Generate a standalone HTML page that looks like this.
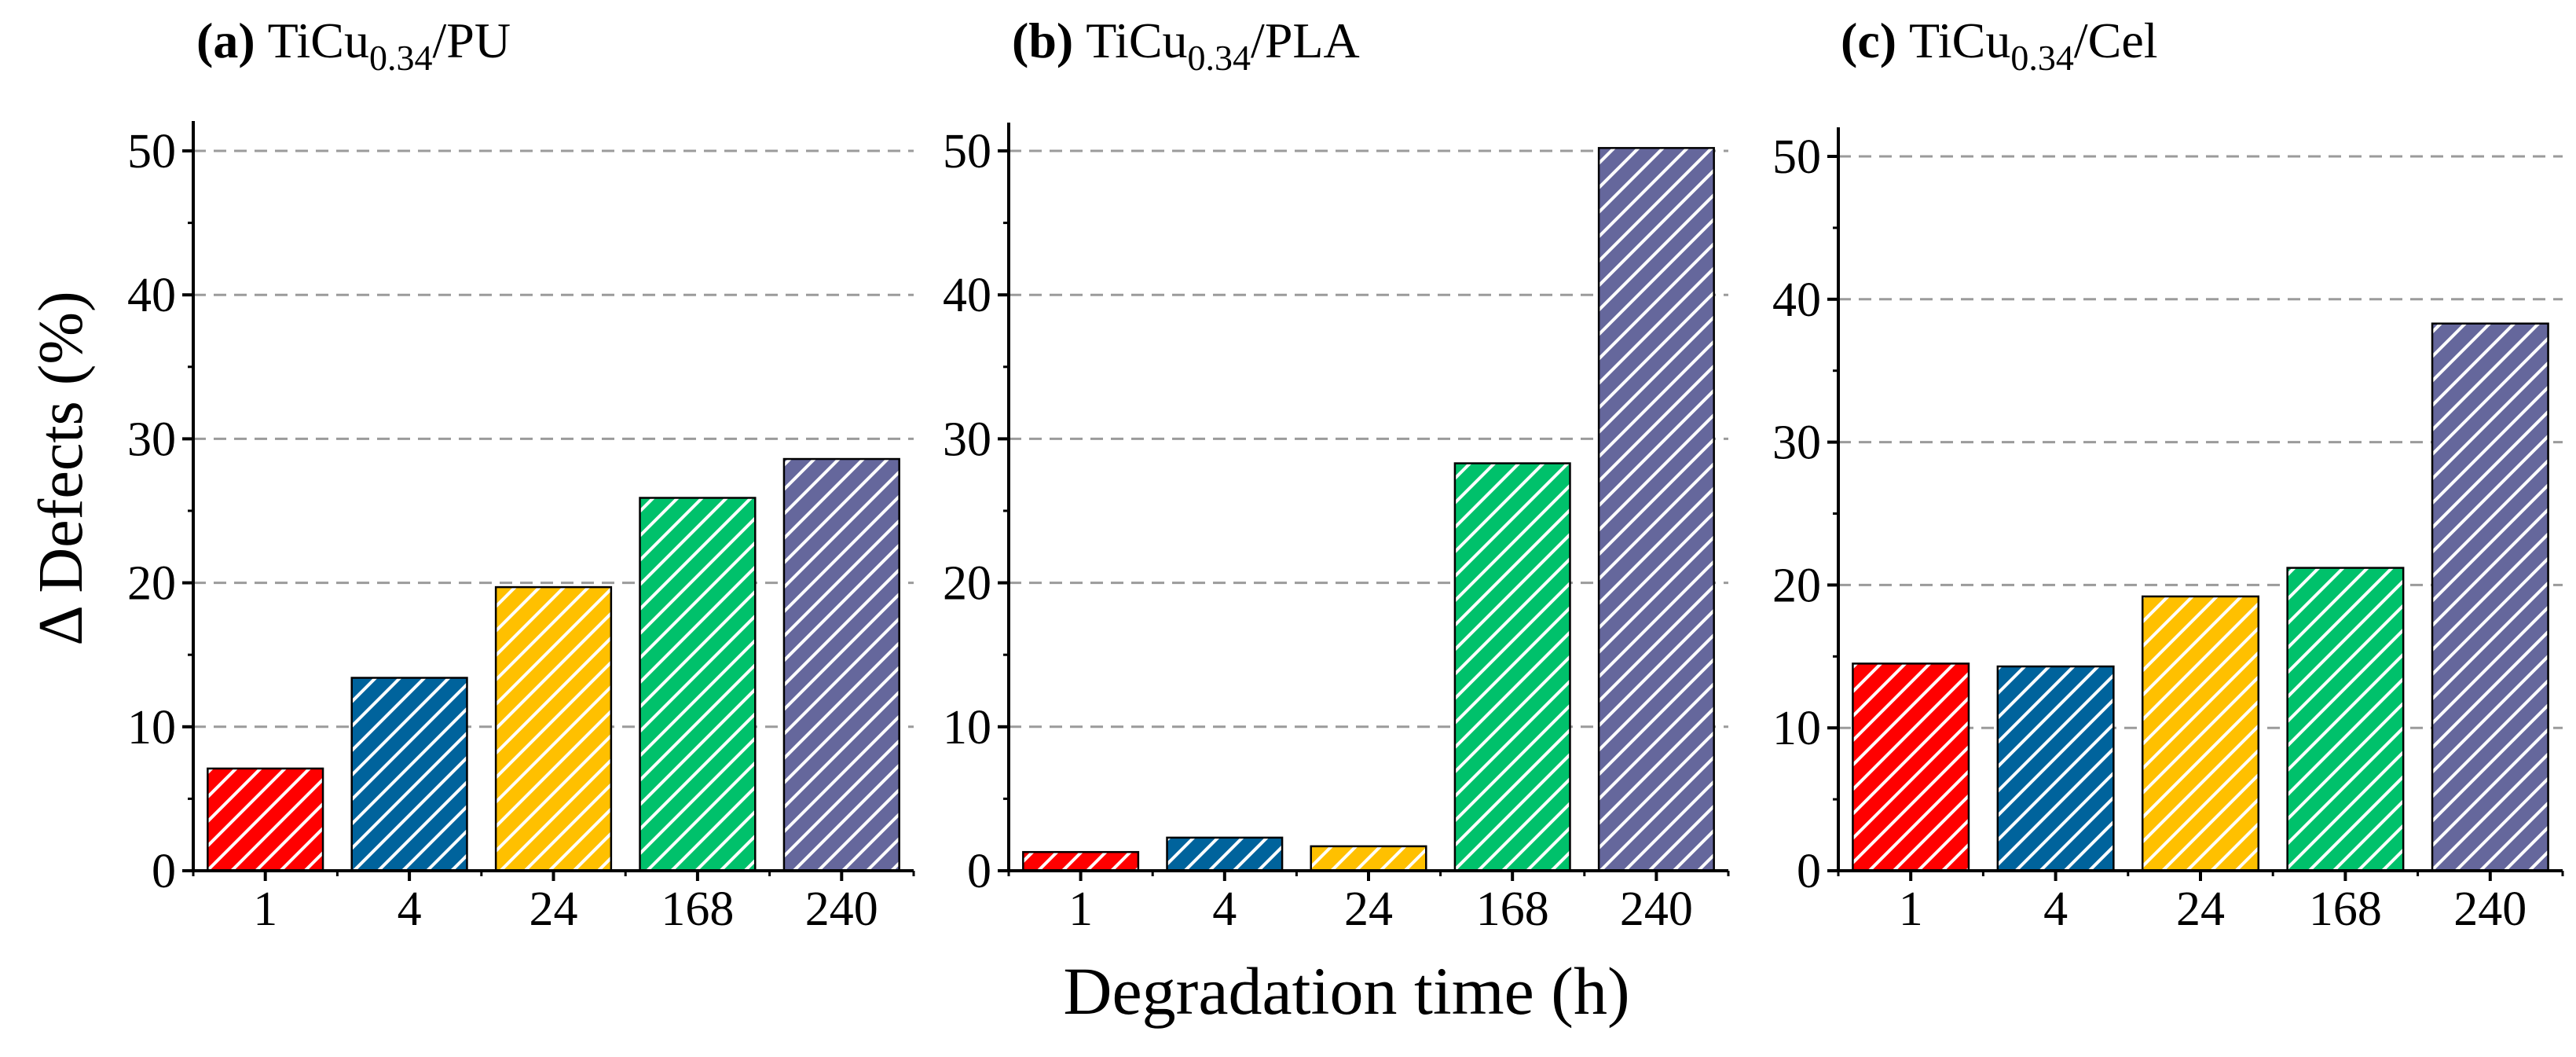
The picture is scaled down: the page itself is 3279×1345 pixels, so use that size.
<!DOCTYPE html>
<html><head><meta charset="utf-8"><style>
html,body{margin:0;padding:0;background:#fff;}
svg, svg text{font-family:"Liberation Serif","DejaVu Serif",serif;}
</style></head><body>
<svg id="fig" width="3279" height="1340" viewBox="0 0 3279 1340" xmlns="http://www.w3.org/2000/svg" font-family="'Liberation Serif', 'DejaVu Serif', serif">
<defs></defs>
<text x="0" y="0" transform="translate(104,596) rotate(-90)" text-anchor="middle" font-size="80">Δ Defects (%)</text>
<text x="1714" y="1290" text-anchor="middle" font-size="86">Degradation time (h)</text>
</svg>
<script>
const categories = ["1","4","24","168","240"];
const valuesPU = [7.1, 13.4, 19.7, 25.9, 28.6];
const valuesPLA = [1.3, 2.3, 1.7, 28.3, 50.2];
const valuesCel = [14.5, 14.3, 19.2, 21.2, 38.3];
const yTicks = [0, 10, 20, 30, 40, 50];
const panelLabels = ["(a)", "(b)", "(c)"];
const panelNames = ["PU", "PLA", "Cel"];
const colors = ["#ff0000", "#00639c", "#ffc000", "#00c16b", "#65679c"];

const NS = "http://www.w3.org/2000/svg";
const svg = document.getElementById("fig");
const defs = svg.querySelector("defs");
function mk(tag, attrs, parent) {
  const e = document.createElementNS(NS, tag);
  for (const k in attrs) e.setAttribute(k, attrs[k]);
  (parent || svg).appendChild(e);
  return e;
}
colors.forEach((c, i) => {
  const p = mk("pattern", {id: "hatch" + i, patternUnits: "userSpaceOnUse", width: 22, height: 22, patternTransform: "rotate(45)"}, defs);
  mk("rect", {x: 0, y: 0, width: 22, height: 22, fill: c}, p);
  mk("rect", {x: 0, y: 0, width: 4, height: 22, fill: "#fff"}, p);
});

const panels = [
  {x0: 246, x1: 1163, y0: 1108, y50: 192, top: 154, data: valuesPU, tx: 250},
  {x0: 1284, x1: 2200, y0: 1108, y50: 192, top: 156, data: valuesPLA, tx: 1288},
  {x0: 2340, x1: 3262, y0: 1108, y50: 199, top: 162, data: valuesCel, tx: 2343}
];

panels.forEach((P, pi) => {
  const g = mk("g", {});
  
  
  const ys = v => P.y0 - (v / 50) * (P.y0 - P.y50);
  const n = categories.length;
  const step = (P.x1 - P.x0) / n;
  const xs = i => P.x0 + step * (i + 0.5);

  const t = mk("text", {x: P.tx, y: 73, "font-size": 64}, g);
  
  
  const b = mk("tspan", {"font-weight": "bold"}, t); b.textContent = panelLabels[pi] + " ";
  const t2 = mk("tspan", {}, t); t2.textContent = "TiCu";
  const t3 = mk("tspan", {dy: 16, "font-size": 46}, t); t3.textContent = "0.34";
  const t4 = mk("tspan", {dy: -16}, t); t4.textContent = "/" + panelNames[pi];

  yTicks.forEach(v => {
    if (v === 0) return;
    const l = mk("line", {x1: P.x0, x2: P.x1, y1: ys(v), y2: ys(v), stroke: "#9b9b9b", "stroke-width": 3, "stroke-dasharray": "16 10"}, g);
    
    
  });

  P.data.forEach((v, i) => {
    const w = step * 0.8;
    const r = mk("rect", {x: xs(i) - w / 2, y: ys(v), width: w, height: P.y0 - ys(v), fill: "url(#hatch" + i + ")", stroke: "#000", "stroke-width": 2.5}, g);
    
    
  });

  const ya = mk("line", {x1: P.x0, x2: P.x0, y1: P.top, y2: P.y0 + 1.5, stroke: "#000", "stroke-width": 4}, g);
  
  
  const xa = mk("line", {x1: P.x0 - 14, x2: P.x1, y1: P.y0, y2: P.y0, stroke: "#000", "stroke-width": 4}, g);
  
  

  yTicks.forEach(v => {
    mk("line", {x1: P.x0 - 14, x2: P.x0, y1: ys(v), y2: ys(v), stroke: "#000", "stroke-width": 4}, g);
    if (v < 50) mk("line", {x1: P.x0 - 7, x2: P.x0, y1: ys(v + 5), y2: ys(v + 5), stroke: "#000", "stroke-width": 3}, g);
    const lt = mk("text", {x: P.x0 - 22, y: ys(v) + 21, "text-anchor": "end", "font-size": 62}, g);
    
    
    lt.textContent = v;
  });
  for (let i = 0; i <= n; i++) {
    mk("line", {x1: P.x0 + step * i, x2: P.x0 + step * i, y1: P.y0, y2: P.y0 + 7, stroke: "#000", "stroke-width": 3}, g);
  }
  categories.forEach((c, i) => {
    mk("line", {x1: xs(i), x2: xs(i), y1: P.y0, y2: P.y0 + 13, stroke: "#000", "stroke-width": 4}, g);
    const lt = mk("text", {x: xs(i), y: 1177, "text-anchor": "middle", "font-size": 62}, g);
    
    
    lt.textContent = c;
  });
});
</script>
</body></html>
